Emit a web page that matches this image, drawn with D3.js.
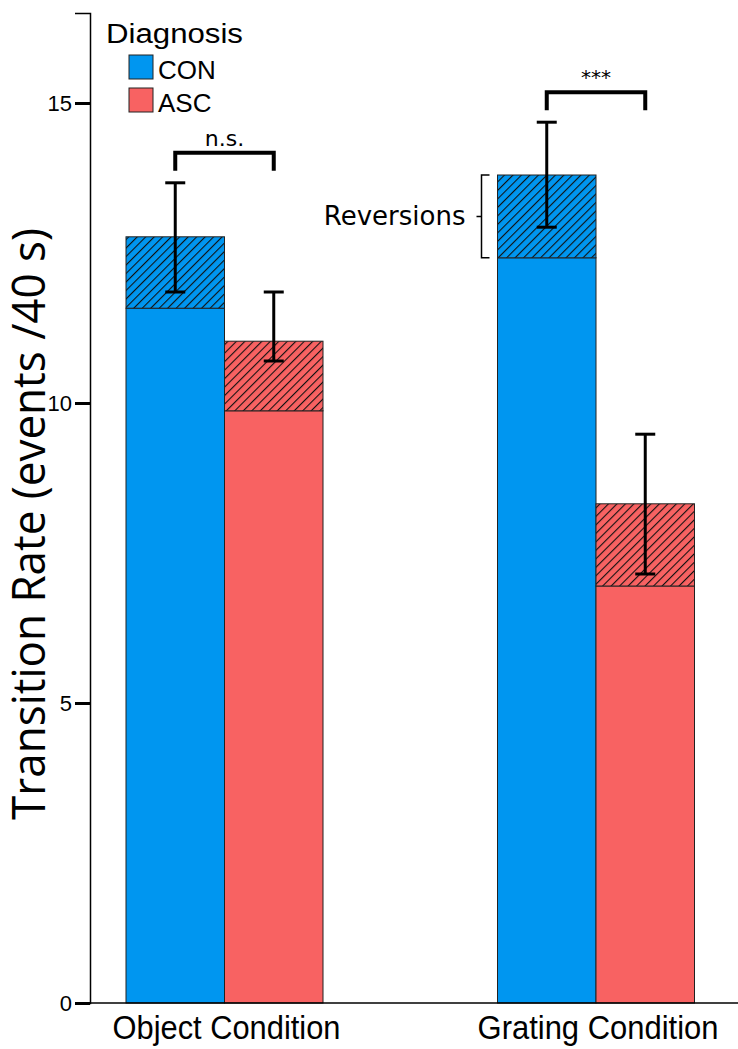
<!DOCTYPE html>
<html><head><meta charset="utf-8">
<script src="https://cdn.jsdelivr.net/npm/d3@7"></script>
<style>body{margin:0;background:#fff}svg{display:block}</style>
</head><body>
<svg id="c" width="738" height="1049"></svg>
<script>
const categories = ["Object Condition", "Grating Condition"];
const groups = ["CON", "ASC"];
const colors = {CON: "#0096F0", ASC: "#F86262"};
// solid part (transitions without reversions) and total (incl. reversions)
const solidCON = [11.58, 12.42];
const solidASC = [9.87, 6.95];
const totalCON = [12.77, 13.80];
const totalASC = [11.03, 8.32];
const errHighCON = [13.67, 14.68];
const errLowCON  = [11.85, 12.93];
const errHighASC = [11.85, 9.48];
const errLowASC  = [10.70, 7.15];
const yTicks = [0, 5, 10, 15];
const sigLabels = ["n.s.", "***"];

const svg = d3.select("#c");
const y = d3.scaleLinear().domain([0, 16.5]).range([1003, 13]);
const xc = d3.scalePoint().domain(categories).range([224.5, 596]);
const xg = d3.scaleBand().domain(groups).range([-98.5, 98.5]);

// place text at (x,y) with optional rotation, squeezed/stretched to a target length
function fitText(sel, x, yy, rot, target, anchor) {
  const node = sel.node();
  const L = node.getComputedTextLength();
  const s = target / L;
  sel.attr("x", 0).attr("y", 0).attr("text-anchor", anchor)
    .attr("transform", `translate(${x},${yy}) rotate(${rot}) scale(${s},1)`);
}

const defs = svg.append("defs");
groups.forEach(g => {
  const p = defs.append("pattern").attr("id", "h" + g)
    .attr("patternUnits", "userSpaceOnUse").attr("width", 6).attr("height", 6)
    .attr("patternTransform", "rotate(45)");
  p.append("rect").attr("width", 6).attr("height", 6).attr("fill", colors[g]);
  p.append("line").attr("x1", 0).attr("y1", 0).attr("x2", 0).attr("y2", 6)
    .attr("stroke", "#111").attr("stroke-width", 2.2);
});

const rows = [];
categories.forEach((c, i) => {
  rows.push({c, g: "CON", solid: solidCON[i], total: totalCON[i], hi: errHighCON[i], lo: errLowCON[i]});
  rows.push({c, g: "ASC", solid: solidASC[i], total: totalASC[i], hi: errHighASC[i], lo: errLowASC[i]});
});

const bars = svg.append("g");
rows.forEach(r => {
  const x0 = xc(r.c) + xg(r.g);
  const w = xg.bandwidth();
  bars.append("rect").attr("x", x0).attr("y", y(r.solid)).attr("width", w)
    .attr("height", y(0) - y(r.solid)).attr("fill", colors[r.g])
    .attr("stroke", "#222").attr("stroke-width", 1);
  bars.append("rect").attr("x", x0).attr("y", y(r.total)).attr("width", w)
    .attr("height", y(r.solid) - y(r.total)).attr("fill", "url(#h" + r.g + ")")
    .attr("stroke", "#222").attr("stroke-width", 1);
});

// error bars
const eb = svg.append("g").attr("stroke", "#000").attr("stroke-width", 3);
rows.forEach(r => {
  const cx = xc(r.c) + xg(r.g) + xg.bandwidth() / 2;
  eb.append("line").attr("x1", cx).attr("x2", cx).attr("y1", y(r.hi)).attr("y2", y(r.lo));
  eb.append("line").attr("x1", cx - 10).attr("x2", cx + 10).attr("y1", y(r.hi)).attr("y2", y(r.hi));
  eb.append("line").attr("x1", cx - 10).attr("x2", cx + 10).attr("y1", y(r.lo)).attr("y2", y(r.lo));
});

// axes
const yAxis = d3.axisLeft(y).tickValues(yTicks).tickSize(15).tickPadding(3).tickFormat(d3.format("d"));
const ya = svg.append("g").attr("transform", "translate(90,0)").call(yAxis);
ya.select(".domain").attr("stroke", "#000").attr("stroke-width", 1.5);
ya.selectAll(".tick line").attr("stroke", "#000").attr("stroke-width", 3);
ya.selectAll(".tick text").attr("font-family", "Liberation Sans, Arial, sans-serif").attr("font-size", 22).attr("fill", "#000");
svg.append("line").attr("x1", 90).attr("x2", 738).attr("y1", y(0)).attr("y2", y(0))
  .attr("stroke", "#000").attr("stroke-width", 1.5);

const xLabelWidths = [228, 241];
categories.forEach((c, i) => {
  const t = svg.append("text").attr("font-family", "Liberation Sans, Arial, sans-serif")
    .attr("font-size", 33).text(c);
  fitText(t, xc(c) + 2, 1039, 0, xLabelWidths[i], "middle");
});

const title = svg.append("text").attr("font-family", "Open Sans, sans-serif")
  .attr("font-size", 46).text("Transition Rate (events /40 s)");
fitText(title, 45, 524, -90, 592, "middle");

// significance brackets
categories.forEach((c, i) => {
  const rc = rows.filter(r => r.c === c);
  const xa = xc(c) + xg("CON") + xg.bandwidth() / 2;
  const xb = xc(c) + xg("ASC") + xg.bandwidth() / 2;
  const top = d3.max(rc, r => r.hi);
  const yb = y(top) - 30;
  svg.append("path").attr("d", `M${xa},${yb + 18}V${yb}H${xb}V${yb + 18}`)
    .attr("fill", "none").attr("stroke", "#000").attr("stroke-width", 4);
  svg.append("text").attr("x", (xa + xb) / 2).attr("y", i === 0 ? yb - 7 : yb - 8)
    .attr("text-anchor", "middle").attr("font-family", "DejaVu Sans, sans-serif")
    .attr("font-size", i === 0 ? 22 : 20).text(sigLabels[i]);
});

// Reversions annotation
const gi = 1;
const yt = y(totalCON[gi]), ys = y(solidCON[gi]);
const bx = xc(categories[gi]) + xg("CON") - 16;
svg.append("path").attr("d", `M${bx + 8},${yt}H${bx}V${ys}H${bx + 8}M${bx},${(yt + ys) / 2}H${bx - 5}`)
  .attr("fill", "none").attr("stroke", "#000").attr("stroke-width", 1.5);
svg.append("text").attr("x", bx - 16).attr("y", (yt + ys) / 2 + 9).attr("text-anchor", "end")
  .attr("font-family", "DejaVu Sans, sans-serif").attr("font-size", 26).text("Reversions");

// legend
const lg = svg.append("g");
const dg = lg.append("text").attr("font-family", "Liberation Sans, Arial, sans-serif")
  .attr("font-size", 28).text("Diagnosis");
fitText(dg, 106, 43, 0, 137, "start");
groups.forEach((g, i) => {
  lg.append("rect").attr("x", 129).attr("y", 55 + i * 33).attr("width", 24).attr("height", 24)
    .attr("fill", colors[g]).attr("stroke", "#222").attr("stroke-width", 1);
  lg.append("text").attr("x", 158).attr("y", 79 + i * 33).attr("font-family", "Liberation Sans, Arial, sans-serif")
    .attr("font-size", 26).text(g);
});
</script>
</body></html>
